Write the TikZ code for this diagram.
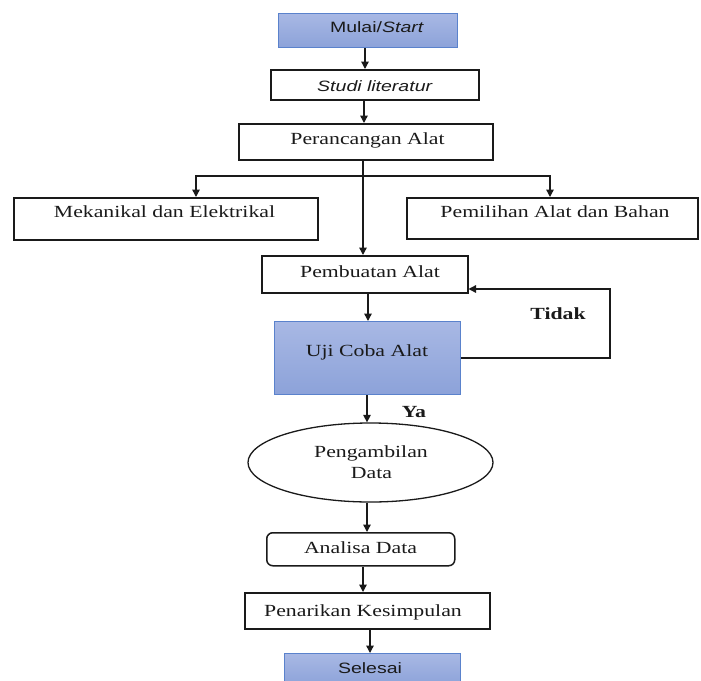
\documentclass[tikz,border=0pt]{standalone}
\usepackage{fontspec}
\setmainfont[FakeStretch=1.28]{Liberation Serif}
\newfontfamily\sansf[FakeStretch=1.3]{Liberation Sans}
\usetikzlibrary{arrows.meta,shapes.geometric}
\definecolor{bluetop}{HTML}{A8B8E4}
\definecolor{bluebot}{HTML}{8CA2D9}
\definecolor{blueedge}{HTML}{5A82CC}
\definecolor{ink}{HTML}{1A1A1A}
\tikzset{
  box/.style={draw=ink, line width=1.5pt, inner sep=0pt, anchor=north west, fill=white},
  bluebox/.style={draw=blueedge, line width=1.2pt, inner sep=0pt, anchor=north west, top color=bluetop, bottom color=bluebot},
  serift/.style={font=\fontsize{17}{21.5}\selectfont, text=ink, inner sep=0pt, anchor=base, align=center},
  sanst/.style={font=\sansf\fontsize{15}{18}\selectfont, text=ink, inner sep=0pt, anchor=base},
  arr/.style={draw=ink, line width=1.4pt, -{Triangle[length=7.5pt,width=7.5pt]}},
  ln/.style={draw=ink, line width=1.4pt}
}
\begin{document}
\begin{tikzpicture}[x=1pt,y=-1pt]
\useasboundingbox[fill=white] (0,0) rectangle (701,680);

% boxes
\node[bluebox, minimum width=179pt, minimum height=34pt] (mulai) at (278,13) {};
\node[box, minimum width=208pt, minimum height=30pt] (studi) at (270,69) {};
\node[box, minimum width=254pt, minimum height=36pt] (per) at (238,123) {};
\node[box, minimum width=304pt, minimum height=42pt] (mek) at (13,197) {};
\node[box, minimum width=291pt, minimum height=41pt] (pem) at (406,197) {};
\node[box, minimum width=206pt, minimum height=37pt] (pemb) at (261,255) {};
\node[bluebox, minimum width=186pt, minimum height=73pt] (uji) at (274,321) {};
\node[draw=ink, line width=1.3pt, ellipse, inner sep=0pt, minimum width=245pt, minimum height=79pt, fill=white] (ell) at (370.5,462.5) {};
\node[box, rounded corners=6pt, minimum width=188pt, minimum height=33pt] (ana) at (266,532) {};
\node[box, minimum width=245pt, minimum height=36pt] (pen) at (244,592) {};
\node[bluebox, minimum width=176pt, minimum height=32pt] (sel) at (284,653) {};

% texts
\node[sanst] (mulai-t) at (377,32) {Mulai/\textit{Start}};
\node[sanst] (studi-t) at (375,91) {\textit{Studi literatur}};
\node[serift] (per-t) at (367.5,144) {Perancangan Alat};
\node[serift] (mek-t) at (164.5,217) {Mekanikal dan Elektrikal};
\node[serift] (pem-t) at (555,217) {Pemilihan Alat dan Bahan};
\node[serift] (pemb-t) at (370,277) {Pembuatan Alat};
\node[serift] (uji-t) at (367,356) {Uji Coba Alat};
\node[serift, font=\fontsize{17}{21.5}\selectfont\bfseries] (tidak-t) at (558,319) {Tidak};
\node[serift, font=\fontsize{17}{21.5}\selectfont\bfseries] (ya-t) at (414,417) {Ya};
\node[serift] (ell-t1) at (371,457) {Pengambilan};
\node[serift] (ell-t2) at (371.5,478) {Data};
\node[serift] (ana-t) at (360.5,553) {Analisa Data};
\node[serift] (pen-t) at (363,616) {Penarikan Kesimpulan};
\node[sanst] (sel-t) at (370,673) {Selesai};

% connectors
\draw[arr] (mulai.south -| 365,0) -- (studi.north -| 365,0);
\draw[arr] (studi.south -| 364,0) -- (per.north -| 364,0);
\draw[arr] (per.south -| 363,0) -- (pemb.north -| 363,0);
\coordinate (br) at (363,176);
\draw[arr] (br) -| (mek.north -| 196,0);
\draw[arr] (br) -| (pem.north -| 550,0);
\draw[arr] (pemb.south -| 368,0) -- (uji.north -| 368,0);
\coordinate (loopx) at (610,0);
\draw[arr] (uji.east) -- (uji.east -| loopx) |- (pemb.east |- 0,289);
\draw[arr] (uji.south -| 367,0) -- (ell.north -| 367,0);
\draw[arr] (ell.south -| 367,0) -- (ana.north -| 367,0);
\draw[arr] (ana.south -| 363,0) -- (pen.north -| 363,0);
\draw[arr] (pen.south -| 370,0) -- (sel.north -| 370,0);
\end{tikzpicture}
\end{document}
